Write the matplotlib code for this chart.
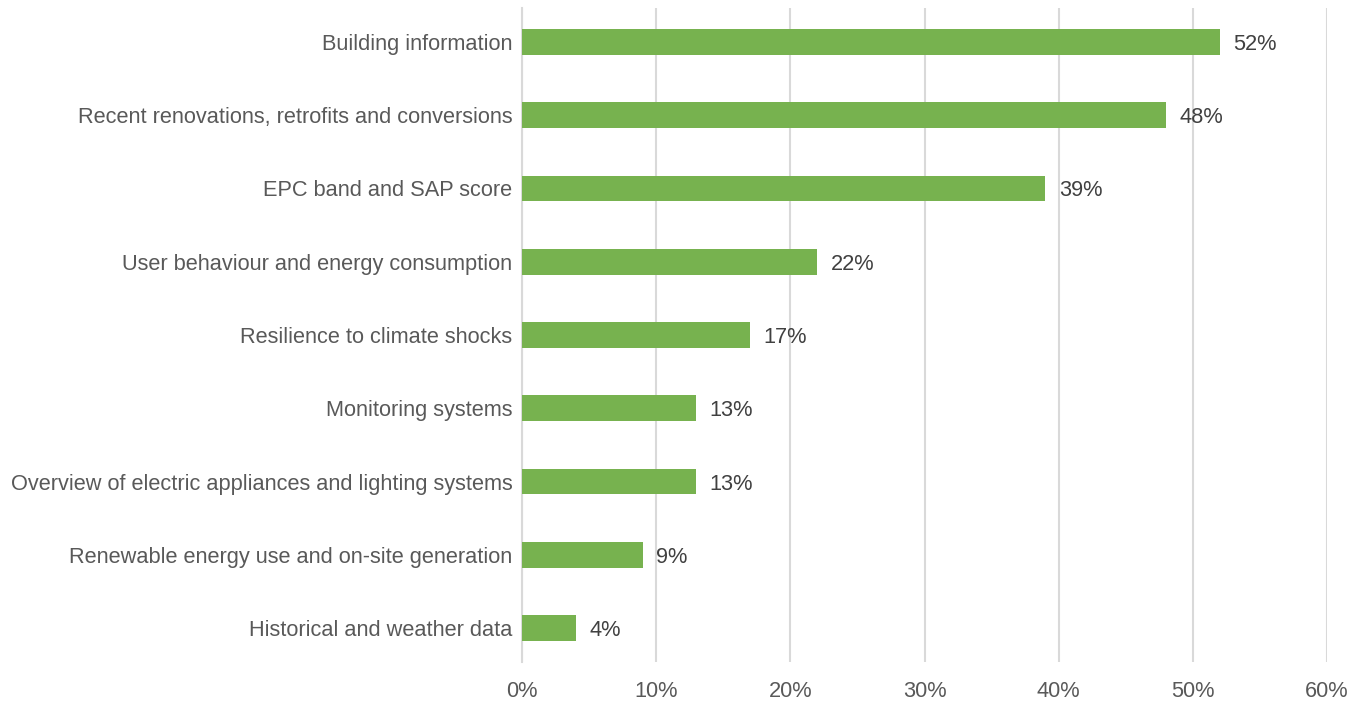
import matplotlib.pyplot as plt
from matplotlib.ticker import PercentFormatter

plt.rcParams['font.family'] = ['Liberation Sans', 'DejaVu Sans']

categories = [
    'Building information',
    'Recent renovations, retrofits and conversions',
    'EPC band and SAP score',
    'User behaviour and energy consumption',
    'Resilience to climate shocks',
    'Monitoring systems',
    'Overview of electric appliances and lighting systems',
    'Renewable energy use and on-site generation',
    'Historical and weather data',
]
values = [52, 48, 39, 22, 17, 13, 13, 9, 4]
xticks = [0, 10, 20, 30, 40, 50, 60]

fig = plt.figure(figsize=(13.67, 7.08), dpi=100)
ax = fig.add_axes([522 / 1367, 1 - 662 / 708, (1327 - 522) / 1367, (662 - 8) / 708])

y = list(range(len(categories)))
ax.barh(y, values, height=0.35, color='#77B24F', zorder=3)
for yi, v in zip(y, values):
    ax.text(v + 1.0, yi, f'{v}%', va='center_baseline', ha='left', fontsize=15.7, color='#404040')

ax.set_ylim(8.464, -0.464)
ax.set_xlim(0, 60)
ax.set_yticks(y)
ax.set_yticklabels(categories, fontsize=15.7, color='#595959')
ax.set_xticks(xticks)
ax.xaxis.set_major_formatter(PercentFormatter(decimals=0))
ax.tick_params(axis='x', labelsize=15.7, colors='#595959', length=0, pad=14)
ax.tick_params(axis='y', length=0, pad=7)
ax.grid(axis='x', color='#D9D9D9', linewidth=1.5, zorder=0)
for s in ['top', 'right', 'bottom']:
    ax.spines[s].set_visible(False)
ax.spines['left'].set_color('#D9D9D9')
ax.spines['left'].set_linewidth(1.5)

plt.savefig('out.png', dpi=100)
